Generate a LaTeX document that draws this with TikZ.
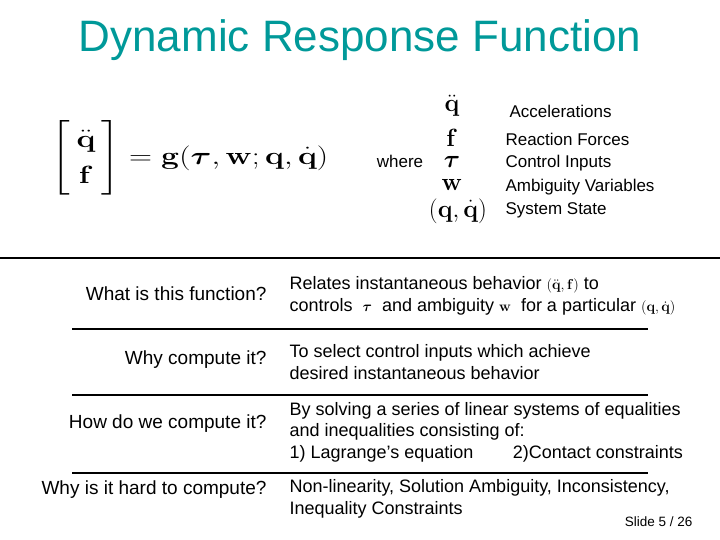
\documentclass[tikz,border=0pt]{standalone}
\usepackage{amsmath,bm}
\usepackage[no-math]{fontspec}
\setmainfont{Liberation Sans}
\definecolor{titleteal}{RGB}{0,153,153}
\tikzset{
  lbl/.style={anchor=east, font=\fontsize{19}{21}\selectfont},
  txt/.style={anchor=west, align=left, font=\fontsize{18}{21.5}\selectfont},
  sym/.style={font=\fontsize{26}{28}\selectfont},
  key/.style={anchor=west, font=\fontsize{17}{19}\selectfont},
  rule/.style={line width=1.2pt}
}
\newcommand{\inl}[1]{{\fontsize{15}{16}\selectfont$#1$}}
\begin{document}
\begin{tikzpicture}[x=1pt, y=-1pt]
\useasboundingbox (0,0) rectangle (720,540);
\node[text=titleteal, font=\fontsize{44}{48}\selectfont] (title) at (360,40) {Dynamic Response Function};
% equation
\node[anchor=west, font=\fontsize{32}{36}\selectfont] (eqn) at (48,158)
  {\scalebox{1.28}[1]{$\left[\begin{array}{c}\ddot{\mathbf q}\\ \mathbf f\end{array}\right]=\mathbf g(\bm\tau,\mathbf w;\mathbf q,\dot{\mathbf q})$}};
\node[font=\fontsize{17}{19}\selectfont] (where) at (400,161) {where};
% symbol list
\node[sym] (s1) at (452,106) {$\ddot{\mathbf q}$};
\node[sym] (s2) at (452,138) {$\mathbf f$};
\node[sym] (s3) at (452,162) {$\bm\tau$};
\node[sym] (s4) at (452,185) {$\mathbf w$};
\node[sym] (s5) at (458,211) {$(\mathbf q,\dot{\mathbf q})$};
\node[key] (k1) at (506,111) {Accelerations};
\node[key] (k2) at (502,139) {Reaction Forces};
\node[key] (k3) at (502,163) {Control Inputs};
\node[key] (k4) at (502,187) {Ambiguity Variables};
\node[key] (k5) at (502,210) {System State};
\draw[rule] (0,258) -- (720,258);
% rows
\node[lbl] (q1) at (270,294) {What is this function?};
\node[txt] (a1) at (286,296) {Relates instantaneous behavior \inl{(\ddot{\mathbf q},\mathbf f)} to\\
  controls \ \inl{\bm\tau} \ and ambiguity \inl{\mathbf w} \ for a particular \inl{(\mathbf q,\dot{\mathbf q})}};
\draw[rule] (72,329) -- (648,329);
\node[lbl] (q2) at (270,360) {Why compute it?};
\node[txt] (a2) at (286,362) {To select control inputs which achieve\\desired instantaneous behavior};
\draw[rule] (72,395) -- (648,395);
\node[lbl] (q3) at (270,424) {How do we compute it?};
\node[txt] (a3) at (286,432) {By solving a series of linear systems of equalities\\and inequalities consisting of:\\1) Lagrange’s equation\hspace{2.2em}2)Contact constraints};
\draw[rule] (72,473) -- (648,473);
\node[lbl] (q4) at (270,490) {Why is it hard to compute?};
\node[txt] (a4) at (286,499) {Non-linearity, Solution Ambiguity, Inconsistency,\\Inequality Constraints};
\node[anchor=east, font=\fontsize{13.5}{15}\selectfont] (slide) at (696,522) {Slide 5 / 26};
\end{tikzpicture}
\end{document}
